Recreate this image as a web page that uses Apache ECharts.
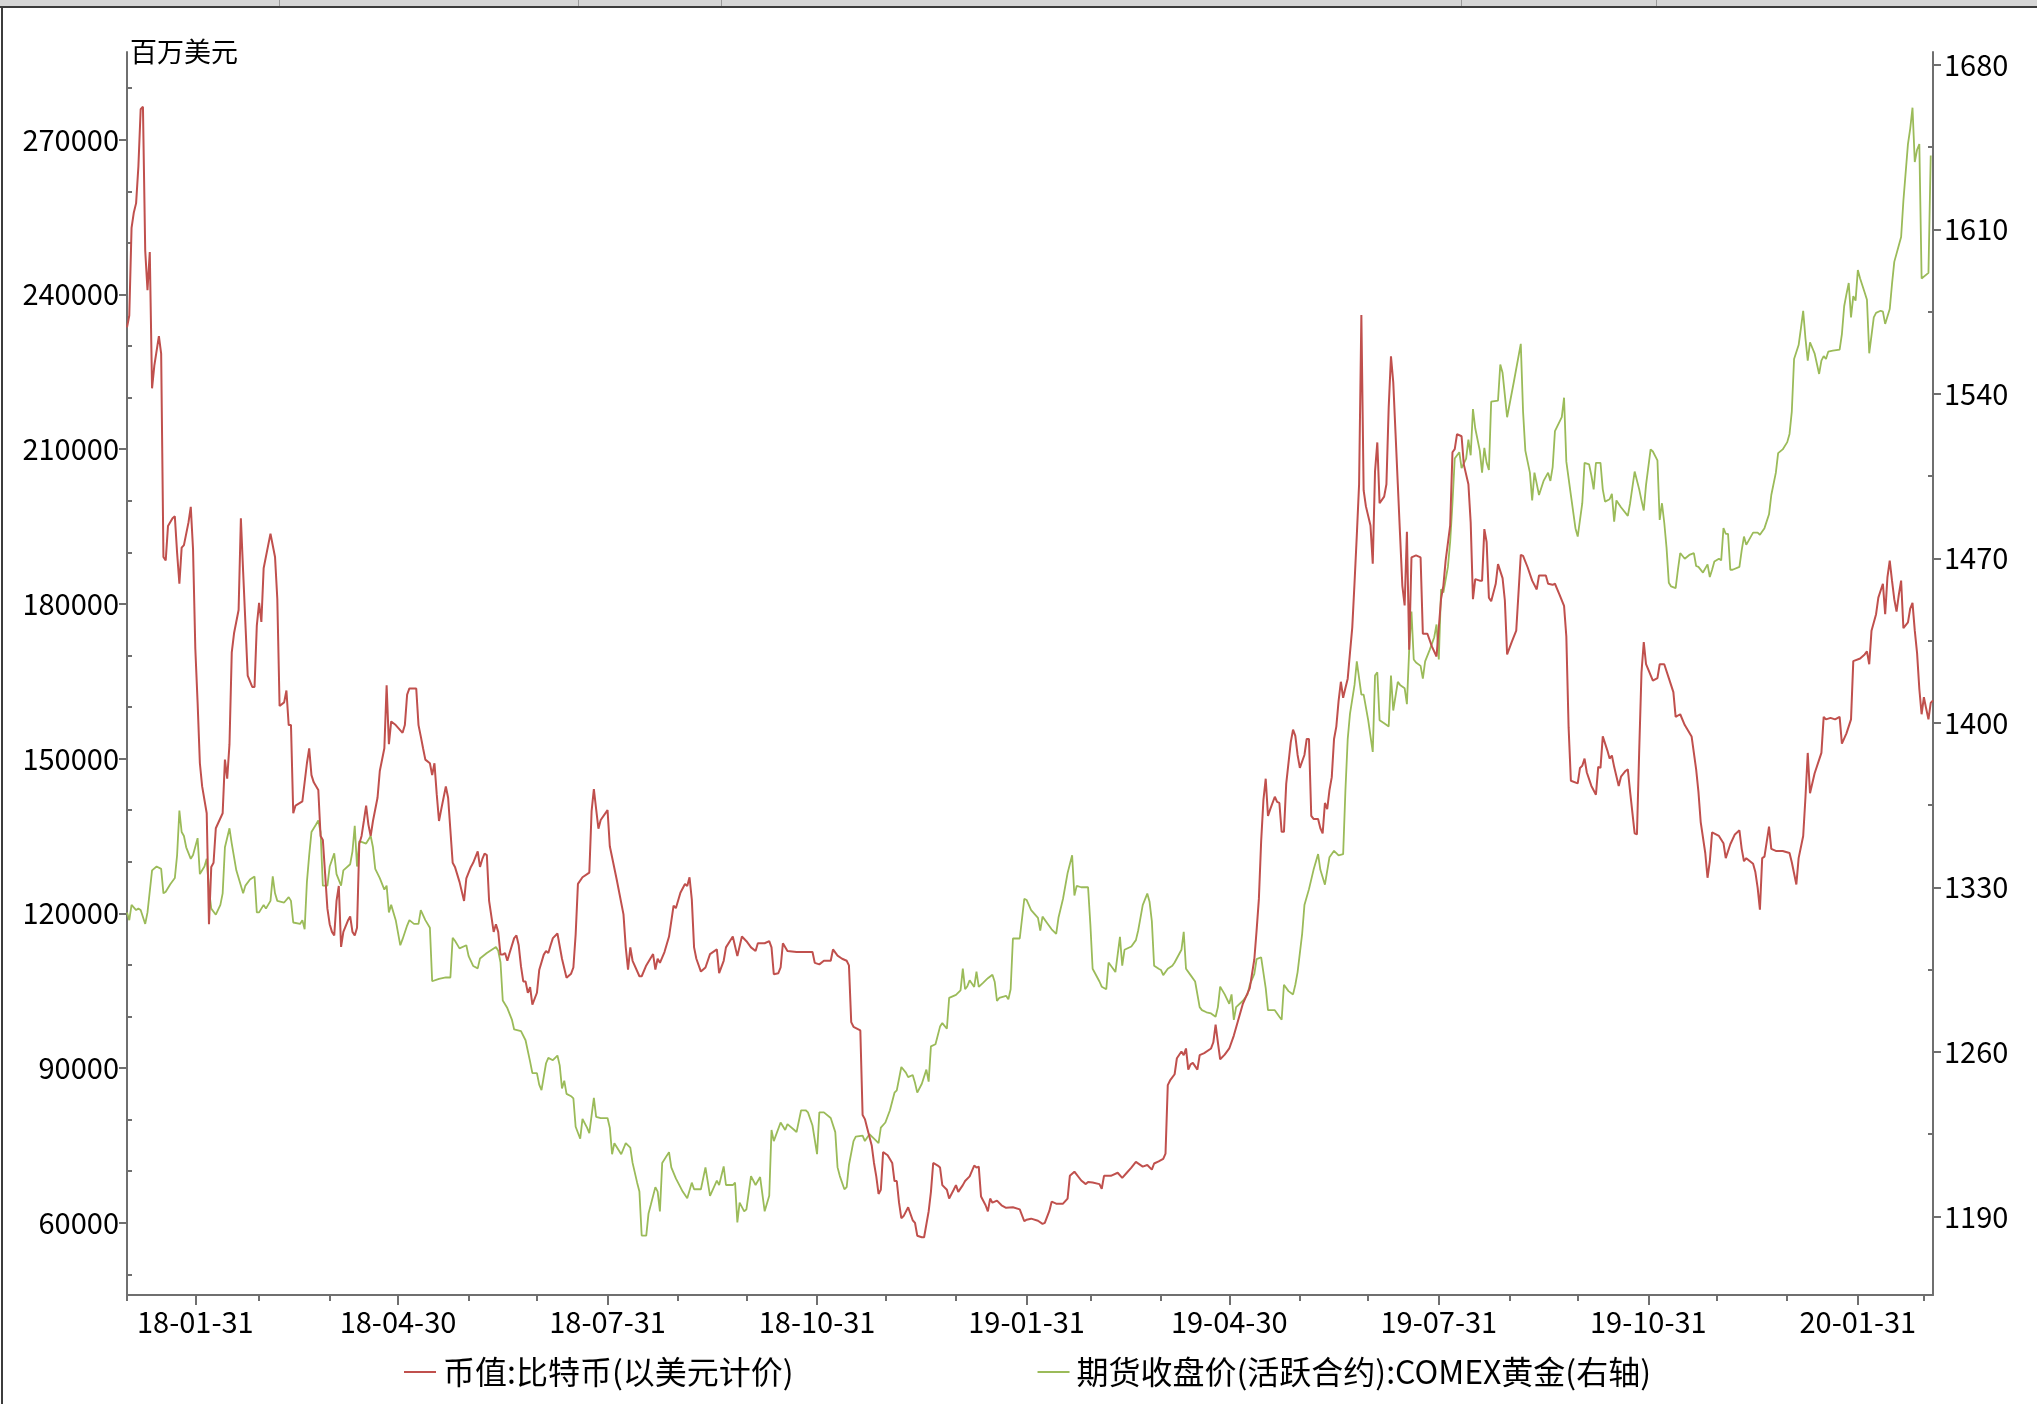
<!DOCTYPE html>
<html>
<head>
<meta charset="utf-8">
<title>比特币币值与COMEX黄金</title>
<script src="https://cdn.jsdelivr.net/npm/echarts@6/dist/echarts.min.js"></script>
<style>
  html, body { margin: 0; padding: 0; background: #fff; }
  #chart { width: 2037px; height: 1404px; }
</style>
</head>
<body>
<div id="chart"></div>
<script>
// 币值:比特币(以美元计价), 百万美元
const btcCap = [
  ['2018-01-01',233600],['2018-01-02',235900],['2018-01-03',252900],['2018-01-04',255900],['2018-01-05',257700],
  ['2018-01-06',264800],['2018-01-07',275900],['2018-01-08',276400],['2018-01-09',248500],['2018-01-10',240800],
  ['2018-01-11',248200],['2018-01-12',221800],['2018-01-13',226200],['2018-01-15',231900],['2018-01-16',228500],
  ['2018-01-17',189100],['2018-01-18',188400],['2018-01-19',195100],['2018-01-21',196600],['2018-01-22',197000],
  ['2018-01-23',189900],['2018-01-24',183900],['2018-01-25',190900],['2018-01-26',191400],['2018-01-28',195800],
  ['2018-01-29',198800],['2018-01-30',190600],['2018-01-31',171300],
  ['2018-02-01',160900],['2018-02-02',149100],['2018-02-03',144600],['2018-02-05',139400],['2018-02-06',117900],
  ['2018-02-07',129000],['2018-02-08',129800],['2018-02-09',136500],['2018-02-12',139400],['2018-02-13',149800],
  ['2018-02-14',146100],['2018-02-15',152800],['2018-02-16',170600],['2018-02-17',174300],['2018-02-19',178800],
  ['2018-02-20',196600],['2018-02-21',186200],['2018-02-23',166100],['2018-02-25',163900],['2018-02-26',163900],
  ['2018-02-27',175800],['2018-02-28',180200],
  ['2018-03-01',176500],['2018-03-02',186900],['2018-03-04',191400],['2018-03-05',193600],['2018-03-07',189100],
  ['2018-03-08',181000],['2018-03-09',160200],['2018-03-11',160900],['2018-03-12',163200],['2018-03-13',156500],
  ['2018-03-14',156500],['2018-03-15',139400],['2018-03-16',140900],['2018-03-19',141700],['2018-03-21',149100],
  ['2018-03-22',152000],['2018-03-23',146800],['2018-03-24',145400],['2018-03-26',143900],['2018-03-27',135000],
  ['2018-03-28',134200],['2018-03-29',127600],['2018-03-30',120900],['2018-03-31',117900],
  ['2018-04-01',116400],['2018-04-02',115700],['2018-04-03',122400],['2018-04-04',125300],['2018-04-05',113500],
  ['2018-04-06',116400],['2018-04-08',118600],['2018-04-09',119400],['2018-04-10',116400],['2018-04-11',115700],
  ['2018-04-12',117200],['2018-04-13',133500],['2018-04-14',135000],['2018-04-15',137900],['2018-04-16',140900],
  ['2018-04-17',137200],['2018-04-18',135000],['2018-04-19',137900],['2018-04-21',142400],['2018-04-22',147600],
  ['2018-04-24',152000],['2018-04-25',164200],['2018-04-26',152800],['2018-04-27',157200],['2018-04-29',156500],
  ['2018-05-02',155000],['2018-05-03',156500],['2018-05-04',162400],['2018-05-05',163600],['2018-05-08',163600],
  ['2018-05-09',156500],['2018-05-10',154300],['2018-05-11',152000],['2018-05-12',149800],['2018-05-14',149100],
  ['2018-05-15',146800],['2018-05-16',149100],['2018-05-17',143100],['2018-05-18',137900],['2018-05-19',140200],
  ['2018-05-20',142400],['2018-05-21',144600],['2018-05-22',142400],['2018-05-24',129800],['2018-05-25',129000],
  ['2018-05-27',126100],['2018-05-29',122400],['2018-05-30',126800],
  ['2018-06-01',129000],['2018-06-02',129800],['2018-06-04',132000],['2018-06-05',129000],['2018-06-06',130500],
  ['2018-06-07',131600],['2018-06-08',131300],['2018-06-09',122400],['2018-06-11',116400],['2018-06-12',117900],
  ['2018-06-13',116400],['2018-06-14',112000],['2018-06-15',112000],['2018-06-16',112300],['2018-06-17',110800],
  ['2018-06-18',112300],['2018-06-20',115200],['2018-06-21',115700],['2018-06-22',113800],['2018-06-23',109700],
  ['2018-06-24',106800],['2018-06-25',106800],['2018-06-26',104600],['2018-06-27',105700],['2018-06-28',102300],
  ['2018-06-30',104600],
  ['2018-07-01',109000],['2018-07-03',112000],['2018-07-04',112700],['2018-07-05',112300],['2018-07-06',113800],
  ['2018-07-07',115200],['2018-07-09',116100],['2018-07-11',111200],['2018-07-13',107500],['2018-07-15',108300],
  ['2018-07-16',109500],['2018-07-17',115900],['2018-07-18',125700],['2018-07-20',127000],['2018-07-23',127900],
  ['2018-07-24',139800],['2018-07-25',144100],['2018-07-26',140200],['2018-07-27',136400],['2018-07-28',138100],
  ['2018-07-31',140000],
  ['2018-08-01',133000],['2018-08-04',126600],['2018-08-07',119800],['2018-08-08',113400],['2018-08-09',109100],
  ['2018-08-10',113400],['2018-08-11',110800],['2018-08-14',107800],['2018-08-15',107800],['2018-08-17',109900],
  ['2018-08-20',112100],['2018-08-21',109100],['2018-08-22',111200],['2018-08-23',110400],['2018-08-25',112500],
  ['2018-08-27',115500],['2018-08-29',121500],['2018-08-30',121000],
  ['2018-09-01',124000],['2018-09-03',125700],['2018-09-04',125300],['2018-09-05',127000],['2018-09-06',122700],
  ['2018-09-07',113400],['2018-09-08',111200],['2018-09-10',108700],['2018-09-12',109500],['2018-09-14',112100],
  ['2018-09-17',113000],['2018-09-18',108400],['2018-09-20',110800],['2018-09-21',113400],['2018-09-24',115500],
  ['2018-09-26',111700],['2018-09-28',115500],['2018-09-30',114600],
  ['2018-10-02',113400],['2018-10-04',112700],['2018-10-05',114200],['2018-10-08',114200],['2018-10-10',114600],
  ['2018-10-11',113400],['2018-10-12',108200],['2018-10-14',108400],['2018-10-15',109500],['2018-10-16',114200],
  ['2018-10-18',112700],['2018-10-22',112500],['2018-10-25',112500],['2018-10-29',112500],['2018-10-30',110400],
  ['2018-11-01',110100],['2018-11-03',110800],['2018-11-06',110800],['2018-11-07',113000],['2018-11-09',111800],
  ['2018-11-11',111200],['2018-11-13',110800],['2018-11-14',109900],['2018-11-15',98900],['2018-11-16',98000],
  ['2018-11-19',97300],['2018-11-20',80900],['2018-11-21',80100],['2018-11-22',78400],['2018-11-24',75000],
  ['2018-11-25',71600],['2018-11-26',69000],['2018-11-27',65600],['2018-11-28',66400],['2018-11-29',73700],
  ['2018-12-01',73100],['2018-12-03',71600],['2018-12-04',68100],['2018-12-05',68100],['2018-12-06',63900],
  ['2018-12-07',60900],['2018-12-08',61300],['2018-12-10',63000],['2018-12-12',60500],['2018-12-13',60000],
  ['2018-12-14',57500],['2018-12-16',57200],['2018-12-17',57200],['2018-12-19',62200],['2018-12-20',66000],
  ['2018-12-21',71600],['2018-12-23',71100],['2018-12-24',70700],['2018-12-25',67300],['2018-12-27',66400],
  ['2018-12-28',64700],['2018-12-30',66400],['2018-12-31',67300],
  ['2019-01-01',66000],['2019-01-03',67300],['2019-01-04',68100],['2019-01-06',69000],['2019-01-08',71100],
  ['2019-01-09',70700],['2019-01-10',70900],['2019-01-11',65100],['2019-01-13',63400],['2019-01-14',62200],
  ['2019-01-15',64700],['2019-01-16',63900],['2019-01-18',64300],['2019-01-20',63400],['2019-01-22',62900],
  ['2019-01-25',63000],['2019-01-28',62600],['2019-01-30',60300],['2019-01-31',60600],
  ['2019-02-02',60800],['2019-02-05',60400],['2019-02-07',59800],['2019-02-08',60000],['2019-02-10',62300],
  ['2019-02-11',64100],['2019-02-13',63700],['2019-02-16',63700],['2019-02-18',64700],['2019-02-19',69100],
  ['2019-02-21',69900],['2019-02-24',68200],['2019-02-26',67500],['2019-02-27',67900],
  ['2019-03-01',67800],['2019-03-04',67500],['2019-03-05',66600],['2019-03-06',69100],['2019-03-09',69100],
  ['2019-03-12',69700],['2019-03-14',68700],['2019-03-16',69700],['2019-03-18',70700],['2019-03-20',71800],
  ['2019-03-23',70900],['2019-03-25',71200],['2019-03-27',70300],['2019-03-28',71500],['2019-03-30',71900],
  ['2019-04-01',72400],['2019-04-02',73400],['2019-04-03',86700],['2019-04-04',87600],['2019-04-06',88800],
  ['2019-04-07',91900],['2019-04-09',93200],['2019-04-10',92500],['2019-04-11',93800],['2019-04-12',89700],
  ['2019-04-13',90700],['2019-04-14',91000],['2019-04-16',89700],['2019-04-17',92500],['2019-04-19',92900],
  ['2019-04-22',93800],['2019-04-23',95000],['2019-04-24',98400],['2019-04-25',95000],['2019-04-26',91700],
  ['2019-04-28',92600],['2019-04-30',93800],
  ['2019-05-02',96300],['2019-05-04',99400],['2019-05-06',102500],['2019-05-09',105500],['2019-05-11',111100],
  ['2019-05-12',116700],['2019-05-13',122800],['2019-05-14',134000],['2019-05-15',142000],['2019-05-16',146100],
  ['2019-05-17',138900],['2019-05-18',140200],['2019-05-20',142600],['2019-05-21',141600],['2019-05-22',141400],
  ['2019-05-23',135800],['2019-05-24',135800],['2019-05-25',145100],['2019-05-27',153200],['2019-05-28',155600],
  ['2019-05-29',154400],['2019-05-30',150700],['2019-05-31',148200],
  ['2019-06-02',150700],['2019-06-03',153800],['2019-06-04',153800],['2019-06-05',138900],['2019-06-06',138300],
  ['2019-06-08',138300],['2019-06-09',136500],['2019-06-10',135500],['2019-06-11',141400],['2019-06-12',140200],
  ['2019-06-13',143900],['2019-06-14',146400],['2019-06-15',153800],['2019-06-16',156200],['2019-06-17',161200],
  ['2019-06-18',164900],['2019-06-19',161800],['2019-06-20',163700],['2019-06-21',165500],['2019-06-22',170500],
  ['2019-06-23',175400],['2019-06-24',184100],['2019-06-25',193300],['2019-06-26',203200],['2019-06-27',236000],
  ['2019-06-28',202000],['2019-06-29',198900],
  ['2019-07-01',195200],['2019-07-02',187800],['2019-07-03',205700],['2019-07-04',211300],['2019-07-05',199500],
  ['2019-07-07',200800],['2019-07-08',203200],['2019-07-09',218100],['2019-07-10',228000],['2019-07-11',223000],
  ['2019-07-12',213100],['2019-07-13',203200],['2019-07-14',193300],['2019-07-15',183500],['2019-07-16',179700],
  ['2019-07-17',194000],['2019-07-18',171100],['2019-07-19',189000],['2019-07-21',189400],['2019-07-23',189000],
  ['2019-07-24',174200],['2019-07-26',174200],['2019-07-28',171700],['2019-07-30',169800],
  ['2019-08-01',181000],['2019-08-02',183500],['2019-08-03',188400],['2019-08-05',195200],['2019-08-06',209400],
  ['2019-08-07',210000],['2019-08-08',212900],['2019-08-10',212500],['2019-08-11',207000],['2019-08-13',203200],
  ['2019-08-14',195800],['2019-08-15',180900],['2019-08-16',184800],['2019-08-18',184500],['2019-08-19',184500],
  ['2019-08-20',194500],['2019-08-21',192000],['2019-08-22',181200],['2019-08-23',180500],['2019-08-25',183900],
  ['2019-08-26',187700],['2019-08-28',185000],['2019-08-29',180700],['2019-08-30',170200],
  ['2019-09-01',172600],['2019-09-03',174800],['2019-09-05',189500],['2019-09-06',189300],['2019-09-08',187100],
  ['2019-09-10',184500],['2019-09-12',182800],['2019-09-13',185500],['2019-09-16',185500],['2019-09-17',183900],
  ['2019-09-19',183700],['2019-09-20',183900],['2019-09-22',181800],['2019-09-24',179600],['2019-09-25',173700],
  ['2019-09-26',156000],['2019-09-27',145700],['2019-09-30',145200],
  ['2019-10-01',148200],['2019-10-02',148600],['2019-10-03',150000],['2019-10-04',147300],['2019-10-06',144700],
  ['2019-10-08',143000],['2019-10-09',148400],['2019-10-10',148200],['2019-10-11',154300],['2019-10-13',151600],
  ['2019-10-14',150000],['2019-10-15',150600],['2019-10-16',148400],['2019-10-18',144700],['2019-10-19',146500],
  ['2019-10-21',147600],['2019-10-22',147900],['2019-10-23',143600],['2019-10-25',135500],['2019-10-26',135300],
  ['2019-10-27',151600],['2019-10-28',166700],['2019-10-29',172600],['2019-10-30',168300],
  ['2019-11-02',165100],['2019-11-04',165600],['2019-11-05',168300],['2019-11-07',168300],['2019-11-09',165600],
  ['2019-11-11',162900],['2019-11-12',158100],['2019-11-14',158600],['2019-11-16',156500],['2019-11-19',154300],
  ['2019-11-21',147900],['2019-11-22',143600],['2019-11-23',137700],['2019-11-25',131700],['2019-11-26',126900],
  ['2019-11-27',130100],['2019-11-28',135700],
  ['2019-12-01',135000],['2019-12-03',133600],['2019-12-04',130700],['2019-12-06',133400],['2019-12-08',135300],
  ['2019-12-10',136100],['2019-12-11',132500],['2019-12-12',130100],['2019-12-13',130700],['2019-12-16',129600],
  ['2019-12-17',128000],['2019-12-18',125000],['2019-12-19',120700],['2019-12-20',130700],['2019-12-21',131000],
  ['2019-12-23',136800],['2019-12-24',132500],['2019-12-26',132100],['2019-12-29',132100],
  ['2020-01-01',131700],['2020-01-02',129900],['2020-01-04',125600],['2020-01-05',130700],['2020-01-07',135000],
  ['2020-01-08',142500],['2020-01-09',151100],['2020-01-10',143300],['2020-01-12',147100],['2020-01-15',151100],
  ['2020-01-16',158100],['2020-01-17',157600],['2020-01-19',157900],['2020-01-21',157600],['2020-01-23',158100],
  ['2020-01-24',152900],['2020-01-26',154900],['2020-01-28',157600],['2020-01-29',168900],
  ['2020-02-01',169400],['2020-02-03',170200],['2020-02-04',170800],['2020-02-05',168300],['2020-02-06',174800],
  ['2020-02-08',178000],['2020-02-09',181200],['2020-02-11',183900],['2020-02-12',178000],['2020-02-13',185200],
  ['2020-02-14',188400],['2020-02-15',184500],['2020-02-16',180900],['2020-02-17',178500],['2020-02-18',181800],
  ['2020-02-19',184500],['2020-02-20',175300],['2020-02-22',176400],['2020-02-23',179100],['2020-02-24',180200],
  ['2020-02-25',174800],['2020-02-26',170500],['2020-02-27',163500],['2020-02-28',158600],['2020-02-29',161900],
  ['2020-03-01',159700],['2020-03-02',157600],['2020-03-03',160800],['2020-03-04',161300]
];

// 期货收盘价(活跃合约):COMEX黄金, 右轴
const goldClose = [
  ['2018-01-01',1319.4],['2018-01-02',1316.1],['2018-01-03',1322.6],['2018-01-05',1320.4],['2018-01-06',1321.0],
  ['2018-01-07',1320.4],['2018-01-09',1314.5],['2018-01-10',1319.4],['2018-01-12',1337.3],['2018-01-14',1338.9],
  ['2018-01-16',1337.9],['2018-01-17',1327.5],['2018-01-18',1328.2],['2018-01-20',1331.4],['2018-01-22',1334.0],
  ['2018-01-23',1343.8],['2018-01-24',1362.7],['2018-01-25',1353.6],['2018-01-26',1351.9],['2018-01-27',1347.1],
  ['2018-01-29',1342.2],['2018-01-30',1343.8],
  ['2018-02-01',1351.0],['2018-02-02',1335.7],['2018-02-04',1338.9],['2018-02-05',1342.2],['2018-02-06',1329.1],
  ['2018-02-07',1321.0],['2018-02-09',1318.4],['2018-02-11',1322.6],['2018-02-12',1327.5],['2018-02-13',1347.1],
  ['2018-02-15',1355.2],['2018-02-16',1348.7],['2018-02-18',1337.3],['2018-02-21',1327.5],['2018-02-22',1330.8],
  ['2018-02-24',1333.4],['2018-02-26',1334.7],['2018-02-27',1319.4],['2018-02-28',1319.4],
  ['2018-03-02',1322.6],['2018-03-03',1321.0],['2018-03-05',1324.3],['2018-03-06',1334.7],['2018-03-07',1327.5],
  ['2018-03-08',1324.3],['2018-03-11',1323.6],['2018-03-13',1325.9],['2018-03-14',1324.3],['2018-03-15',1315.1],
  ['2018-03-18',1314.5],['2018-03-19',1316.1],['2018-03-20',1312.2],['2018-03-21',1332.4],['2018-03-22',1343.8],
  ['2018-03-23',1353.6],['2018-03-25',1356.8],['2018-03-26',1358.5],['2018-03-27',1353.6],['2018-03-28',1330.8],
  ['2018-03-30',1330.8],['2018-03-31',1338.9],
  ['2018-04-02',1344.5],['2018-04-03',1335.7],['2018-04-05',1330.8],['2018-04-06',1337.3],['2018-04-09',1339.9],
  ['2018-04-10',1345.4],['2018-04-11',1356.2],['2018-04-12',1338.9],['2018-04-13',1349.7],['2018-04-16',1348.7],
  ['2018-04-18',1351.9],['2018-04-19',1347.1],['2018-04-20',1337.9],['2018-04-22',1334.0],['2018-04-24',1329.1],
  ['2018-04-25',1330.8],['2018-04-26',1319.4],['2018-04-27',1322.6],['2018-04-29',1316.1],
  ['2018-05-01',1305.4],['2018-05-02',1308.0],['2018-05-04',1313.8],['2018-05-05',1316.1],['2018-05-07',1314.5],
  ['2018-05-09',1314.5],['2018-05-10',1320.4],['2018-05-12',1316.1],['2018-05-14',1312.9],['2018-05-15',1290.1],
  ['2018-05-18',1291.1],['2018-05-21',1291.7],['2018-05-23',1291.7],['2018-05-24',1308.6],['2018-05-25',1307.3],
  ['2018-05-27',1304.1],['2018-05-30',1305.4],['2018-05-31',1300.8],
  ['2018-06-02',1296.6],['2018-06-04',1295.6],['2018-06-05',1299.8],['2018-06-08',1302.1],['2018-06-12',1304.7],
  ['2018-06-13',1303.1],['2018-06-14',1298.2],['2018-06-15',1281.9],['2018-06-17',1278.7],['2018-06-19',1273.8],
  ['2018-06-20',1269.6],['2018-06-23',1268.9],['2018-06-25',1265.0],['2018-06-27',1255.9],['2018-06-28',1251.0],
  ['2018-06-30',1251.0],
  ['2018-07-01',1246.1],['2018-07-02',1243.8],['2018-07-04',1255.2],['2018-07-05',1257.5],['2018-07-07',1256.5],
  ['2018-07-09',1258.5],['2018-07-10',1254.3],['2018-07-11',1244.5],['2018-07-12',1247.8],['2018-07-13',1242.2],
  ['2018-07-15',1241.2],['2018-07-16',1240.3],['2018-07-17',1228.2],['2018-07-19',1223.1],['2018-07-20',1231.5],
  ['2018-07-22',1227.8],['2018-07-23',1225.5],['2018-07-25',1240.5],['2018-07-26',1232.4],['2018-07-28',1231.9],
  ['2018-07-31',1231.9],
  ['2018-08-01',1227.8],['2018-08-02',1216.5],['2018-08-03',1221.2],['2018-08-06',1216.5],['2018-08-08',1221.2],
  ['2018-08-10',1219.3],['2018-08-11',1212.8],['2018-08-13',1204.4],['2018-08-14',1200.6],['2018-08-15',1181.9],
  ['2018-08-17',1181.9],['2018-08-18',1191.3],['2018-08-19',1195.0],['2018-08-21',1202.5],['2018-08-22',1200.6],
  ['2018-08-23',1192.2],['2018-08-24',1212.8],['2018-08-27',1217.4],['2018-08-28',1210.9],['2018-08-30',1206.2],
  ['2018-09-02',1200.6],['2018-09-04',1197.8],['2018-09-06',1204.4],['2018-09-07',1201.6],['2018-09-10',1201.6],
  ['2018-09-12',1210.9],['2018-09-14',1198.8],['2018-09-17',1205.3],['2018-09-18',1203.4],['2018-09-20',1211.3],
  ['2018-09-21',1203.4],['2018-09-24',1203.4],['2018-09-25',1204.4],['2018-09-26',1187.5],['2018-09-27',1195.9],
  ['2018-09-29',1192.2],['2018-09-30',1193.1],
  ['2018-10-02',1207.2],['2018-10-04',1203.4],['2018-10-06',1206.8],['2018-10-08',1192.2],['2018-10-10',1198.8],
  ['2018-10-11',1226.8],['2018-10-12',1222.1],['2018-10-15',1230.0],['2018-10-17',1226.8],['2018-10-18',1229.3],
  ['2018-10-21',1226.8],['2018-10-22',1225.9],['2018-10-24',1235.2],['2018-10-26',1235.2],['2018-10-27',1234.3],
  ['2018-10-29',1228.7],['2018-10-31',1216.5],
  ['2018-11-01',1234.3],['2018-11-03',1234.3],['2018-11-06',1231.9],['2018-11-08',1225.9],['2018-11-09',1210.9],
  ['2018-11-10',1207.2],['2018-11-12',1201.6],['2018-11-13',1202.5],['2018-11-14',1211.9],['2018-11-16',1222.1],
  ['2018-11-17',1224.0],['2018-11-20',1224.4],['2018-11-21',1222.1],['2018-11-23',1225.0],['2018-11-25',1223.1],
  ['2018-11-27',1221.2],['2018-11-28',1227.8],['2018-11-30',1230.0],
  ['2018-12-02',1235.2],['2018-12-04',1242.7],['2018-12-05',1243.7],['2018-12-07',1253.6],['2018-12-09',1251.2],
  ['2018-12-10',1249.3],['2018-12-12',1250.2],['2018-12-13',1246.9],['2018-12-14',1242.7],['2018-12-16',1246.5],
  ['2018-12-18',1252.5],['2018-12-19',1247.4],['2018-12-20',1262.4],['2018-12-22',1263.3],['2018-12-24',1270.8],
  ['2018-12-25',1272.3],['2018-12-27',1269.9],['2018-12-28',1283.0],['2018-12-31',1284.3],
  ['2019-01-02',1286.2],['2019-01-03',1295.5],['2019-01-04',1286.7],['2019-01-05',1288.0],['2019-01-06',1290.5],
  ['2019-01-08',1287.7],['2019-01-09',1294.2],['2019-01-10',1287.7],['2019-01-12',1289.5],['2019-01-14',1291.4],
  ['2019-01-16',1292.9],['2019-01-17',1289.9],['2019-01-18',1281.7],['2019-01-19',1283.0],['2019-01-22',1283.9],
  ['2019-01-23',1282.4],['2019-01-24',1286.7],['2019-01-25',1308.3],['2019-01-28',1308.3],['2019-01-30',1325.2],
  ['2019-01-31',1324.7],
  ['2019-02-02',1320.4],['2019-02-05',1317.1],['2019-02-06',1311.7],['2019-02-07',1317.6],['2019-02-09',1314.9],
  ['2019-02-11',1312.2],['2019-02-13',1310.3],['2019-02-14',1317.1],['2019-02-16',1325.2],['2019-02-18',1336.1],
  ['2019-02-20',1343.7],['2019-02-21',1326.6],['2019-02-22',1330.7],['2019-02-24',1330.1],['2019-02-27',1330.1],
  ['2019-02-28',1314.4],
  ['2019-03-01',1295.4],['2019-03-04',1290.0],['2019-03-05',1287.8],['2019-03-07',1286.7],['2019-03-08',1298.1],
  ['2019-03-10',1295.4],['2019-03-11',1294.0],['2019-03-13',1309.0],['2019-03-14',1296.7],['2019-03-15',1303.5],
  ['2019-03-18',1304.9],['2019-03-20',1307.6],['2019-03-21',1311.7],['2019-03-22',1317.1],['2019-03-23',1322.5],
  ['2019-03-25',1327.4],['2019-03-26',1323.9],['2019-03-27',1315.7],['2019-03-28',1296.7],['2019-03-30',1295.4],
  ['2019-03-31',1294.9],
  ['2019-04-01',1292.7],['2019-04-03',1295.4],['2019-04-05',1296.7],['2019-04-06',1298.1],['2019-04-09',1303.5],
  ['2019-04-10',1311.1],['2019-04-11',1295.4],['2019-04-13',1292.7],['2019-04-15',1290.0],['2019-04-17',1279.1],
  ['2019-04-18',1277.8],['2019-04-20',1276.9],['2019-04-22',1276.4],['2019-04-24',1275.0],['2019-04-25',1279.1],
  ['2019-04-26',1287.8],['2019-04-28',1284.5],['2019-04-30',1280.5],
  ['2019-05-01',1284.5],['2019-05-02',1273.7],['2019-05-03',1279.1],['2019-05-06',1281.8],['2019-05-08',1284.5],
  ['2019-05-09',1288.6],['2019-05-11',1293.2],['2019-05-12',1299.5],['2019-05-14',1300.3],['2019-05-16',1287.2],
  ['2019-05-17',1277.8],['2019-05-20',1277.8],['2019-05-22',1275.0],['2019-05-23',1273.7],['2019-05-24',1288.6],
  ['2019-05-26',1285.9],['2019-05-28',1284.5],['2019-05-29',1288.6],['2019-05-30',1294.0],
  ['2019-06-01',1310.3],['2019-06-02',1322.5],['2019-06-04',1329.3],['2019-06-06',1337.5],['2019-06-08',1344.2],
  ['2019-06-09',1337.5],['2019-06-11',1331.2],['2019-06-13',1342.9],['2019-06-15',1345.6],['2019-06-17',1343.7],
  ['2019-06-19',1344.2],['2019-06-20',1371.4],['2019-06-21',1393.1],['2019-06-22',1403.9],['2019-06-24',1416.2],
  ['2019-06-25',1426.2],['2019-06-27',1412.1],['2019-06-28',1412.1],['2019-06-30',1401.2],
  ['2019-07-02',1387.7],['2019-07-03',1420.2],['2019-07-04',1421.6],['2019-07-05',1401.2],['2019-07-07',1399.9],
  ['2019-07-09',1398.5],['2019-07-10',1420.2],['2019-07-11',1405.3],['2019-07-13',1417.5],['2019-07-14',1416.2],
  ['2019-07-16',1414.8],['2019-07-17',1408.0],['2019-07-18',1431.1],['2019-07-19',1447.4],['2019-07-20',1427.0],
  ['2019-07-21',1425.7],['2019-07-23',1424.3],['2019-07-24',1418.9],['2019-07-25',1426.2],['2019-07-27',1431.1],
  ['2019-07-29',1436.5],['2019-07-30',1441.9],['2019-07-31',1427.0],
  ['2019-08-01',1456.9],['2019-08-02',1455.5],['2019-08-04',1466.4],['2019-08-05',1477.2],['2019-08-06',1493.5],
  ['2019-08-07',1512.5],['2019-08-09',1515.2],['2019-08-10',1508.4],['2019-08-12',1512.5],['2019-08-13',1520.6],
  ['2019-08-14',1513.9],['2019-08-15',1533.6],['2019-08-16',1525.4],['2019-08-18',1515.9],['2019-08-19',1506.5],
  ['2019-08-20',1517.1],['2019-08-21',1510.7],['2019-08-22',1507.7],['2019-08-23',1536.7],['2019-08-26',1537.2],
  ['2019-08-27',1552.5],['2019-08-28',1549.0],['2019-08-30',1530.1],
  ['2019-09-02',1545.4],['2019-09-05',1561.3],['2019-09-06',1532.5],['2019-09-07',1515.9],['2019-09-08',1511.2],
  ['2019-09-09',1506.5],['2019-09-10',1494.7],['2019-09-11',1506.5],['2019-09-13',1497.0],['2019-09-15',1503.0],
  ['2019-09-17',1506.5],['2019-09-18',1503.0],['2019-09-19',1508.9],['2019-09-20',1524.2],['2019-09-23',1530.1],
  ['2019-09-24',1538.4],['2019-09-25',1511.2],['2019-09-27',1497.0],['2019-09-29',1482.9],['2019-09-30',1479.3],
  ['2019-10-02',1493.5],['2019-10-03',1510.7],['2019-10-05',1510.0],['2019-10-06',1505.3],['2019-10-07',1499.4],
  ['2019-10-08',1510.7],['2019-10-10',1510.7],['2019-10-11',1499.4],['2019-10-12',1494.2],['2019-10-14',1495.2],
  ['2019-10-15',1497.5],['2019-10-16',1485.7],['2019-10-17',1494.7],['2019-10-19',1491.8],['2019-10-22',1488.1],
  ['2019-10-23',1493.5],['2019-10-25',1507.0],['2019-10-27',1499.4],['2019-10-28',1494.7],['2019-10-29',1490.4],
  ['2019-10-30',1501.3],
  ['2019-11-01',1516.4],['2019-11-02',1515.5],['2019-11-04',1511.7],['2019-11-05',1486.4],['2019-11-06',1493.5],
  ['2019-11-07',1485.2],['2019-11-08',1474.6],['2019-11-09',1459.7],['2019-11-10',1458.1],['2019-11-12',1457.4],
  ['2019-11-13',1465.2],['2019-11-14',1472.3],['2019-11-16',1469.9],['2019-11-18',1471.5],['2019-11-20',1472.3],
  ['2019-11-21',1466.8],['2019-11-22',1466.4],['2019-11-24',1464.0],['2019-11-26',1467.5],['2019-11-27',1462.1],
  ['2019-11-28',1465.2],['2019-11-29',1468.7],
  ['2019-12-01',1469.9],['2019-12-02',1469.2],['2019-12-03',1482.9],['2019-12-04',1480.5],['2019-12-05',1480.5],
  ['2019-12-06',1465.2],['2019-12-07',1465.2],['2019-12-10',1466.4],['2019-12-11',1473.4],['2019-12-12',1479.3],
  ['2019-12-13',1475.8],['2019-12-16',1481.0],['2019-12-18',1481.0],['2019-12-19',1480.1],['2019-12-21',1482.9],
  ['2019-12-23',1488.8],['2019-12-24',1497.0],['2019-12-26',1506.5],['2019-12-27',1514.8],['2019-12-29',1516.4],
  ['2019-12-31',1519.5],
  ['2020-01-01',1523.0],['2020-01-02',1532.5],['2020-01-03',1554.9],['2020-01-05',1560.8],['2020-01-06',1567.9],
  ['2020-01-07',1575.4],['2020-01-08',1563.6],['2020-01-09',1554.2],['2020-01-10',1562.0],['2020-01-12',1557.3],
  ['2020-01-14',1548.5],['2020-01-15',1554.2],['2020-01-16',1556.1],['2020-01-17',1554.9],['2020-01-18',1558.0],
  ['2020-01-20',1558.4],['2020-01-23',1558.9],['2020-01-24',1565.5],['2020-01-25',1577.3],['2020-01-26',1582.5],
  ['2020-01-27',1587.2],['2020-01-28',1572.6],['2020-01-29',1581.6],['2020-01-30',1579.7],['2020-01-31',1592.7],
  ['2020-02-01',1589.1],['2020-02-03',1583.2],['2020-02-04',1580.1],['2020-02-05',1557.3],['2020-02-07',1572.6],
  ['2020-02-08',1574.5],['2020-02-10',1575.4],['2020-02-11',1575.0],['2020-02-12',1569.8],['2020-02-14',1576.1],
  ['2020-02-15',1586.8],['2020-02-16',1596.2],['2020-02-19',1606.8],['2020-02-20',1622.2],['2020-02-22',1646.3],
  ['2020-02-23',1652.9],['2020-02-24',1661.8],['2020-02-25',1638.7],['2020-02-26',1643.9],['2020-02-27',1646.3],
  ['2020-02-28',1589.1],['2020-03-02',1591.5],['2020-03-03',1641.5]
];

// axis ticks and labels
const leftLabels = [60000, 90000, 120000, 150000, 180000, 210000, 240000, 270000];
const leftMinorTicks = [50000, 70000, 80000, 100000, 110000, 130000, 140000, 160000, 170000,
  190000, 200000, 220000, 230000, 250000, 260000, 280000];
const rightLabels = [1190, 1260, 1330, 1400, 1470, 1540, 1610, 1680];
const rightMinorTicks = [1225, 1295, 1365, 1435, 1505, 1575, 1645];
const quarterEnds = ['2018-01-31', '2018-04-30', '2018-07-31', '2018-10-31', '2019-01-31',
  '2019-04-30', '2019-07-31', '2019-10-31', '2020-01-31'];
const monthEnds = ['2018-01-01', '2018-02-28', '2018-03-31', '2018-05-31', '2018-06-30', '2018-08-31',
  '2018-09-30', '2018-11-30', '2018-12-31', '2019-02-28', '2019-03-31', '2019-05-31', '2019-06-30',
  '2019-08-31', '2019-09-30', '2019-11-30', '2019-12-31', '2020-02-29'];

const ts = s => { const p = s.split('-'); return new Date(+p[0], +p[1] - 1, +p[2]).getTime(); };
const pad = n => (n < 10 ? '0' : '') + n;
const fmtDate = v => { const d = new Date(v); return pad(d.getFullYear() % 100) + '-' + pad(d.getMonth() + 1) + '-' + pad(d.getDate()); };

const FONT = '"Noto Sans CJK SC", "Noto Sans", sans-serif';
const axisColor = '#6f6f6f';
const xMin = ts('2018-01-01');
const xMax = ts('2020-03-04');

const chart = echarts.init(document.getElementById('chart'));

const option = {
  animation: false,
  backgroundColor: '#ffffff',
  textStyle: { fontFamily: FONT, color: '#000' },
  grid: { left: 127, right: 104, top: 52, bottom: 109, containLabel: false },
  legend: {
    left: 399,
    top: 1351,
    icon: 'rect',
    itemWidth: 32,
    itemHeight: 2,
    itemGap: 244,
    textStyle: { fontFamily: FONT, fontSize: 32, color: '#000', padding: [0, 0, 0, 2] }
  },
  xAxis: [
    {
      type: 'value',
      min: xMin,
      max: xMax,
      axisLine: { lineStyle: { color: axisColor, width: 2 } },
      axisTick: { show: true, customValues: quarterEnds.map(ts), length: 10, lineStyle: { color: axisColor, width: 2 } },
      axisLabel: {
        customValues: quarterEnds.map(ts),
        formatter: v => fmtDate(v),
        fontFamily: FONT, fontSize: 29, color: '#000', margin: 12
      },
      splitLine: { show: false }
    },
    {
      type: 'value',
      min: xMin,
      max: xMax,
      position: 'bottom',
      axisLine: { show: false },
      axisTick: { show: true, customValues: monthEnds.map(ts), length: 6, lineStyle: { color: axisColor, width: 2 } },
      axisLabel: { show: false },
      splitLine: { show: false }
    }
  ],
  yAxis: [
    {
      type: 'value',
      min: 46000,
      max: 287000,
      position: 'left',
      name: '百万美元',
      nameLocation: 'end',
      nameGap: 0,
      nameTextStyle: { fontFamily: FONT, fontSize: 27, color: '#000', align: 'left', verticalAlign: 'middle', padding: [0, 0, 0, 3] },
      axisLine: { show: true, lineStyle: { color: axisColor, width: 2 } },
      axisTick: { show: true, customValues: leftLabels, length: 8, lineStyle: { color: axisColor, width: 2 } },
      axisLabel: { customValues: leftLabels, formatter: v => String(v), fontFamily: FONT, fontSize: 29, color: '#000', margin: 8 },
      splitLine: { show: false }
    },
    {
      type: 'value',
      min: 1156.6,
      max: 1685.5,
      position: 'right',
      axisLine: { show: true, lineStyle: { color: axisColor, width: 2 } },
      axisTick: { show: true, customValues: rightLabels, length: 8, lineStyle: { color: axisColor, width: 2 } },
      axisLabel: { customValues: rightLabels, formatter: v => String(v), fontFamily: FONT, fontSize: 29, color: '#000', margin: 11 },
      splitLine: { show: false }
    },
    {
      type: 'value',
      min: 46000,
      max: 287000,
      position: 'left',
      axisLine: { show: false },
      axisTick: { show: true, inside: true, customValues: leftMinorTicks, length: 5, lineStyle: { color: axisColor, width: 2 } },
      axisLabel: { show: false },
      splitLine: { show: false }
    },
    {
      type: 'value',
      min: 1156.6,
      max: 1685.5,
      position: 'right',
      axisLine: { show: false },
      axisTick: { show: true, inside: true, customValues: rightMinorTicks, length: 5, lineStyle: { color: axisColor, width: 2 } },
      axisLabel: { show: false },
      splitLine: { show: false }
    }
  ],
  series: [
    {
      name: '币值:比特币(以美元计价)',
      type: 'line',
      yAxisIndex: 0,
      data: btcCap.map(d => [ts(d[0]), d[1]]),
      showSymbol: false,
      symbol: 'none',
      z: 3,
      lineStyle: { color: '#C0504D', width: 2 },
      itemStyle: { color: '#C0504D' }
    },
    {
      name: '期货收盘价(活跃合约):COMEX黄金(右轴)',
      type: 'line',
      yAxisIndex: 1,
      data: goldClose.map(d => [ts(d[0]), d[1]]),
      showSymbol: false,
      symbol: 'none',
      z: 2,
      lineStyle: { color: '#9BBB59', width: 1.8 },
      itemStyle: { color: '#9BBB59' }
    }
  ],
  graphic: [
    { type: 'rect', left: 0, top: 0, shape: { width: 2037, height: 6 }, style: { fill: '#d6d6d6' }, silent: true },
    { type: 'rect', left: 0, top: 6, shape: { width: 2037, height: 2 }, style: { fill: '#3c3c3c' }, silent: true },
    { type: 'rect', left: 1, top: 6, shape: { width: 2, height: 1398 }, style: { fill: '#3c3c3c' }, silent: true },
    { type: 'rect', left: 279, top: 0, shape: { width: 1, height: 6 }, style: { fill: '#9a9a9a' }, silent: true },
    { type: 'rect', left: 578, top: 0, shape: { width: 1, height: 6 }, style: { fill: '#9a9a9a' }, silent: true },
    { type: 'rect', left: 721, top: 0, shape: { width: 1, height: 6 }, style: { fill: '#9a9a9a' }, silent: true },
    { type: 'rect', left: 1461, top: 0, shape: { width: 1, height: 6 }, style: { fill: '#9a9a9a' }, silent: true },
    { type: 'rect', left: 1656, top: 0, shape: { width: 1, height: 6 }, style: { fill: '#9a9a9a' }, silent: true }
  ]
};

chart.setOption(option);
window.addEventListener('resize', () => chart.resize());
</script>
</body>
</html>
